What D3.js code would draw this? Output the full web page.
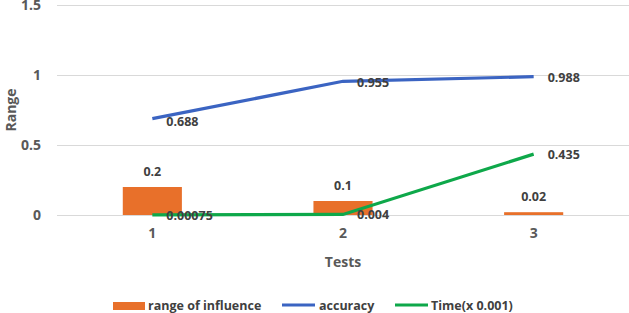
<!DOCTYPE html>
<html>
<head>
<meta charset="utf-8">
<script src="https://cdn.jsdelivr.net/npm/d3@7"></script>
<style>
  body { margin: 0; background: #fff; }
  text { font-family: "Open Sans", sans-serif; font-weight: 700; }
</style>
</head>
<body>
<div id="chart"></div>
<script>
// data
const tests = ['1', '2', '3'];
const rangeOfInfluence = [0.2, 0.1, 0.02];
const accuracy = [0.688, 0.955, 0.988];
const timeValues = [0.00075, 0.004, 0.435];
const timeLabels = ['0.00075', '0.004', '0.435'];
const yTicks = [0, 0.5, 1, 1.5];

const width = 629;
const height = 313;
const margin = {top: 5, right: 0, bottom: 98, left: 57};
const innerWidth = width - margin.left - margin.right;
const innerHeight = height - margin.top - margin.bottom;

const orange = '#E8702A';
const blue = '#3B64C2';
const green = '#0EA84A';
const textColor = '#404040';
const labelSize = '12.5px';

const xScale = d3.scaleBand().domain(tests).range([0, innerWidth]);
const yScale = d3.scaleLinear().domain([0, 1.5]).range([innerHeight, 0]);

const svg = d3.select('#chart').append('svg')
    .attr('width', width)
    .attr('height', height);

const g = svg.append('g')
    .attr('transform', `translate(${margin.left},${margin.top})`);

// grid + y axis
g.append('g')
    .call(d3.axisLeft(yScale).tickValues(yTicks).tickSize(-innerWidth).tickFormat(d3.format('')))
    .call(a => a.select('.domain').remove())
    .call(a => a.selectAll('.tick line').attr('stroke', '#D9D9D9').attr('stroke-width', 1))
    .call(a => a.selectAll('.tick text')
        .attr('x', -16)
        .attr('fill', '#595959')
        .style('font-size', '14px'));

// x axis
g.append('g')
    .attr('transform', `translate(0,${innerHeight})`)
    .call(d3.axisBottom(xScale).tickSize(0))
    .call(a => a.select('.domain').remove())
    .call(a => a.selectAll('.tick text')
        .attr('dy', '1.45em')
        .attr('fill', '#595959')
        .style('font-size', '14px'));

// axis titles
svg.append('text')
    .attr('transform', `translate(16,${margin.top + innerHeight / 2}) rotate(-90)`)
    .attr('text-anchor', 'middle')
    .attr('fill', '#595959')
    .style('font-size', '14px')
    .text('Range');

svg.append('text')
    .attr('x', margin.left + innerWidth / 2)
    .attr('y', 267)
    .attr('text-anchor', 'middle')
    .attr('fill', '#595959')
    .style('font-size', '14px')
    .text('Tests');

// bars
const barW = xScale.bandwidth() * 0.31;
g.selectAll('.bar')
    .data(rangeOfInfluence)
    .join('rect')
    .attr('class', 'bar')
    .attr('x', (d, i) => xScale(tests[i]) + xScale.bandwidth() / 2 - barW / 2)
    .attr('y', d => yScale(d))
    .attr('width', barW)
    .attr('height', d => yScale(0) - yScale(d))
    .attr('fill', orange);

g.selectAll('.barLabel')
    .data(rangeOfInfluence)
    .join('text')
    .attr('class', 'barLabel')
    .attr('x', (d, i) => xScale(tests[i]) + xScale.bandwidth() / 2)
    .attr('y', d => yScale(d) - 11)
    .attr('text-anchor', 'middle')
    .attr('fill', textColor)
    .style('font-size', labelSize)
    .text(d => d);

const cx = i => xScale(tests[i]) + xScale.bandwidth() / 2;

const line = d3.line()
    .x((d, i) => cx(i))
    .y(d => yScale(d));

g.append('path')
    .datum(accuracy)
    .attr('d', line)
    .attr('fill', 'none')
    .attr('stroke', blue)
    .attr('stroke-width', 3.2);

g.append('path')
    .datum(timeValues)
    .attr('d', line)
    .attr('fill', 'none')
    .attr('stroke', green)
    .attr('stroke-width', 3.2);

// line labels
const accOffsets = [7, 6, 5];
g.selectAll('.accLabel')
    .data(accuracy)
    .join('text')
    .attr('class', 'accLabel')
    .attr('x', (d, i) => cx(i) + 14)
    .attr('y', (d, i) => yScale(d) + accOffsets[i])
    .attr('fill', textColor)
    .style('font-size', labelSize)
    .text(d => d);

g.selectAll('.timeLabel')
    .data(timeValues)
    .join('text')
    .attr('class', 'timeLabel')
    .attr('x', (d, i) => cx(i) + 14)
    .attr('y', (d, i) => yScale(d) + 5)
    .attr('fill', textColor)
    .style('font-size', labelSize)
    .text((d, i) => timeLabels[i]);

// legend
const legend = svg.append('g').attr('transform', 'translate(0,305)');
legend.append('rect')
    .attr('x', 113).attr('y', -3).attr('width', 32).attr('height', 8)
    .attr('fill', orange);
legend.append('text')
    .attr('x', 148).attr('y', 5)
    .attr('fill', textColor).style('font-size', labelSize)
    .text('range of influence');

legend.append('line')
    .attr('x1', 282).attr('x2', 315).attr('y1', 0).attr('y2', 0)
    .attr('stroke', blue).attr('stroke-width', 3.2);
legend.append('text')
    .attr('x', 319).attr('y', 5)
    .attr('fill', textColor).style('font-size', labelSize)
    .text('accuracy');

legend.append('line')
    .attr('x1', 395).attr('x2', 428).attr('y1', 0).attr('y2', 0)
    .attr('stroke', green).attr('stroke-width', 3.2);
legend.append('text')
    .attr('x', 431).attr('y', 5)
    .attr('fill', textColor).style('font-size', labelSize)
    .text('Time(x 0.001)');
</script>
</body>
</html>
